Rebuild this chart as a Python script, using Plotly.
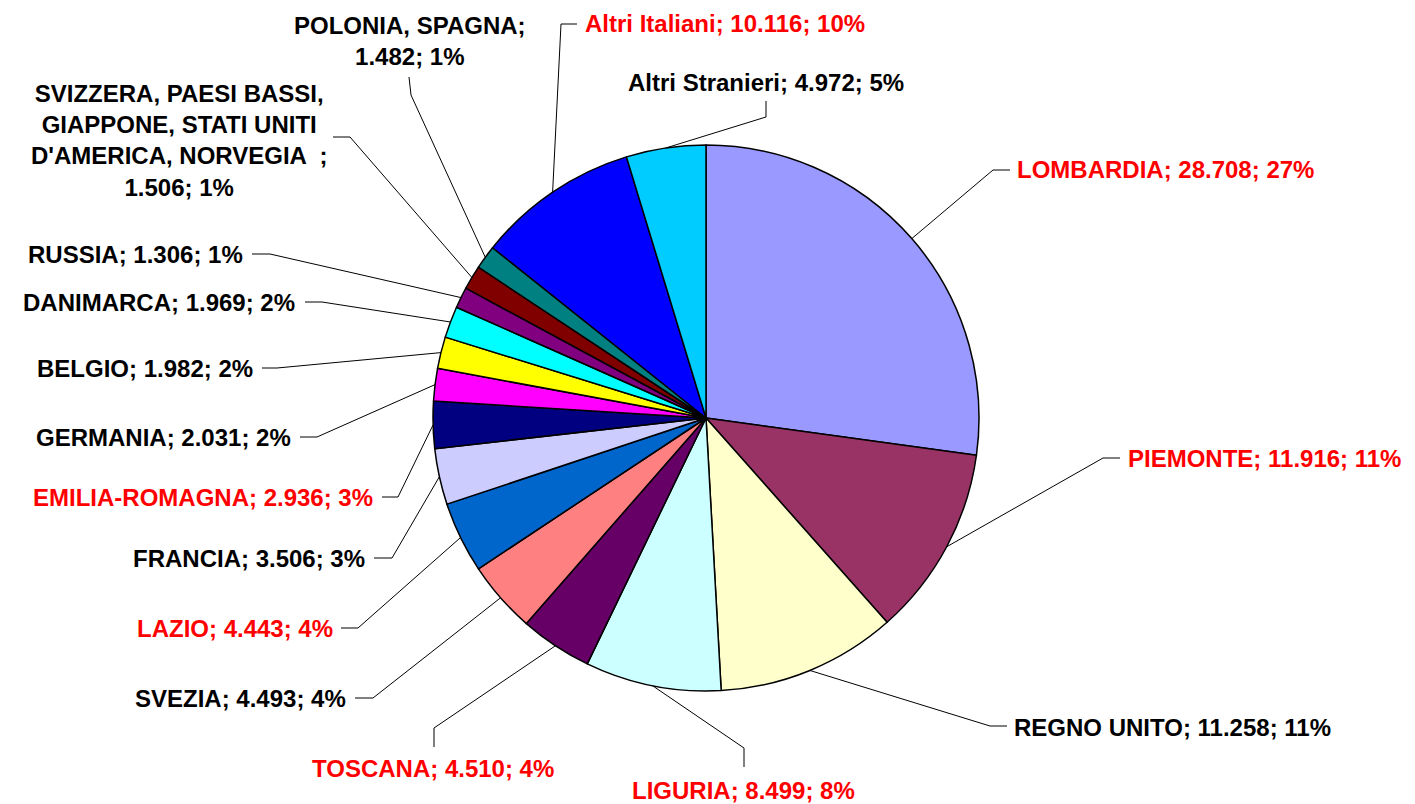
import math
import plotly.graph_objects as go

# ---- data ----
categories = [
    "LOMBARDIA", "PIEMONTE", "REGNO UNITO", "LIGURIA", "TOSCANA", "SVEZIA",
    "LAZIO", "FRANCIA", "EMILIA-ROMAGNA", "GERMANIA", "BELGIO", "DANIMARCA",
    "RUSSIA",
    "SVIZZERA, PAESI BASSI,<br>GIAPPONE, STATI UNITI<br>D'AMERICA, NORVEGIA  ",
    "POLONIA, SPAGNA", "Altri Italiani", "Altri Stranieri",
]
values = [28708, 11916, 11258, 8499, 4510, 4493, 4443, 3506, 2936, 2031,
          1982, 1969, 1306, 1506, 1482, 10116, 4972]
is_italian = [True, True, False, True, True, False, True, False, True, False,
              False, False, False, False, False, True, False]
colors = ["#9999FF", "#993366", "#FFFFCC", "#CCFFFF", "#660066", "#FF8080",
          "#0066CC", "#CCCCFF", "#000080", "#FF00FF", "#FFFF00", "#00FFFF",
          "#800080", "#800000", "#008080", "#0000FF", "#00CCFF"]
# separator after the category name ("; " or a wrapped ";<br>")
name_sep = ["; "] * 13 + [";<br>", ";<br>", "; ", "; "]

# ---- layout (pixel positions of labels and leader-line bends) ----
W, H = 1415, 804
CX, CY, R = 706, 418, 273
# (x, y, xanchor)
label_pos = [
    (1015, 170, "left"), (1126, 458, "left"), (1012, 727, "left"),
    (743, 790, "center"), (433, 768, "center"), (348, 698, "right"),
    (335, 628, "right"), (367, 558, "right"), (375, 497, "right"),
    (293, 437, "right"), (255, 368, "right"), (297, 302, "right"),
    (245, 254, "right"), (179, 140, "center"), (410, 41, "center"),
    (583, 24, "left"), (766, 82, "center"),
]
bend = [(993, 170), (1103, 458), (990, 726), (744, 748), (434, 728),
        (373, 698), (358, 628), (392, 558), (398, 497), (317, 437),
        (277, 368), (322, 302), (270, 254), (350, 137), (411, 95),
        (561, 24), (766, 117)]
tail = [(1010, 170), (1120, 458), (1007, 726), (744, 767), (434, 747),
        (355, 698), (341, 628), (374, 558), (382, 497), (300, 437),
        (262, 368), (305, 302), (252, 254), (333, 137), (409, 77),
        (577, 24), (766, 101)]


def px(x):
    return x / W


def py(y):
    return 1 - y / H


def fmt_thousands(v):
    return f"{v:,}".replace(",", ".")


total = sum(values)

fig = go.Figure(go.Pie(
    labels=[c.replace("<br>", " ") for c in categories],
    values=values,
    sort=False,
    direction="clockwise",
    rotation=0,
    marker=dict(colors=colors, line=dict(color="black", width=1.5)),
    textinfo="none",
    hoverinfo="skip",
    showlegend=False,
    domain=dict(x=[px(CX - R), px(CX + R)], y=[py(CY + R), py(CY - R)]),
))

shapes = []
annotations = []
cum = 0
for i, v in enumerate(values):
    mid = (cum + v / 2) / total
    cum += v
    ang = 2 * math.pi * mid
    ex = CX + R * math.sin(ang)
    ey = CY - R * math.cos(ang)
    bx, by = bend[i]
    tx, ty = tail[i]
    path = f"M {px(ex)} {py(ey)} L {px(bx)} {py(by)} L {px(tx)} {py(ty)}"
    shapes.append(dict(type="path", xref="paper", yref="paper", path=path,
                       line=dict(color="black", width=1)))
    pct = round(100 * v / total)
    text = f"{categories[i]}{name_sep[i]}{fmt_thousands(v)}; {pct}%"
    text = "<br>".join(f"<b>{t}</b>" for t in text.split("<br>"))
    lx, ly, anch = label_pos[i]
    annotations.append(dict(
        x=px(lx), y=py(ly), xref="paper", yref="paper",
        xanchor=anch, yanchor="middle", align="center",
        text=text, showarrow=False,
        font=dict(family="Liberation Sans, Arial, sans-serif", size=24,
                  color="#FF0000" if is_italian[i] else "black"),
    ))

fig.update_layout(
    width=W, height=H,
    margin=dict(l=0, r=0, t=0, b=0),
    paper_bgcolor="white", plot_bgcolor="white",
    shapes=shapes, annotations=annotations,
)

fig.write_html("out.html",
               config={"displayModeBar": False},
               post_script="document.body.style.margin='0';"
                           "document.body.style.overflow='hidden';")
